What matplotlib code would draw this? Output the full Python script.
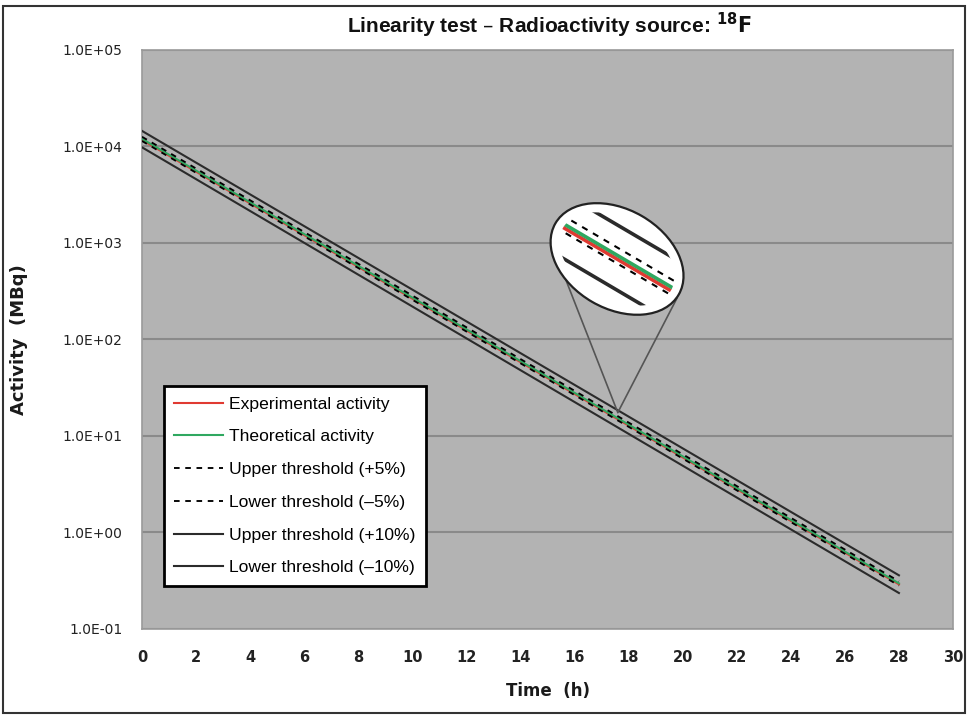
import numpy as np
import matplotlib
matplotlib.use("Agg")
import matplotlib.pyplot as plt
from matplotlib.patches import Ellipse, Rectangle, ConnectionPatch

# ============================
# DATA
# ============================
time_h = [0, 28]
experimental = [1.17e4, 0.290]
theoretical = [1.20e4, 0.297]
upper_5 = [1.26e4, 0.312]
lower_5 = [1.14e4, 0.282]
upper_10 = [1.45e4, 0.360]
lower_10 = [0.98e4, 0.236]

x_ticks = list(range(0, 31, 2))
y_ticks = [1e-1, 1e0, 1e1, 1e2, 1e3, 1e4, 1e5]
y_tick_labels = ["1.0E-01", "1.0E+00", "1.0E+01", "1.0E+02", "1.0E+03", "1.0E+04", "1.0E+05"]

# zoom point of the magnifier
zoom_x = 17.6
zoom_y = 17.5

# ============================
# STYLE
# ============================
red = "#e03a32"
green = "#2fa860"
dark = "#2b2b2b"
dash = (0, (3, 3))


def draw_series(ax, lw=1.5, dlw=1.35):
    ax.plot(time_h, upper_10, color=dark, lw=lw, ls="-", label="Upper threshold (+10%)", zorder=3)
    ax.plot(time_h, lower_10, color=dark, lw=lw, ls="-", label="Lower threshold (\u201310%)", zorder=3)
    ax.plot(time_h, experimental, color=red, lw=lw, label="Experimental activity", zorder=3)
    ax.plot(time_h, theoretical, color=green, lw=lw, label="Theoretical activity", zorder=3)
    ax.plot(time_h, upper_5, color="black", lw=dlw, ls=dash, label="Upper threshold (+5%)", zorder=4)
    ax.plot(time_h, lower_5, color="black", lw=dlw, ls=dash, label="Lower threshold (\u20135%)", zorder=4)


fig = plt.figure(figsize=(9.68, 7.15), dpi=100)
ax = fig.add_axes([0.1467, 0.1203, 0.8378, 0.8098])
ax.set_facecolor("#b3b3b3")

draw_series(ax)

ax.set_yscale("log")
ax.set_xlim(0, 30)
ax.set_ylim(1e-1, 1e5)
ax.set_xticks(x_ticks)
ax.set_yticks(y_ticks)
ax.set_yticklabels(y_tick_labels)
ax.yaxis.set_minor_locator(matplotlib.ticker.NullLocator())
ax.tick_params(axis="both", length=0)
ax.tick_params(axis="y", pad=14, labelsize=10, labelcolor="#222")
ax.tick_params(axis="x", pad=15, labelsize=10.5, labelcolor="#222")
for lab in ax.get_xticklabels():
    lab.set_fontweight("bold")
ax.grid(axis="y", which="major", color="#8a8a8a", lw=1.5)
ax.set_axisbelow(True)
for s in ax.spines.values():
    s.set_color("#9a9a9a")
    s.set_linewidth(1.2)

ax.set_xlabel("Time  (h)", fontsize=12, fontweight="bold", color="#1a1a1a")
ax.set_ylabel("Activity  (MBq)", fontsize=13, fontweight="bold", color="#1a1a1a")
ax.xaxis.set_label_coords(0.5, -0.092)
ax.yaxis.set_label_coords(-0.1406, 0.5)

# legend in the reference order
handles, labels = ax.get_legend_handles_labels()
order = ["Experimental activity", "Theoretical activity", "Upper threshold (+5%)",
         "Lower threshold (\u20135%)", "Upper threshold (+10%)", "Lower threshold (\u201310%)"]
hmap = dict(zip(labels, handles))
leg = ax.legend([hmap[k] for k in order], order, loc="upper left",
                bbox_to_anchor=(0.0271, 0.4197), borderaxespad=0,
                prop={"family": "Liberation Sans", "size": 12.6},
                handlelength=2.75, handletextpad=0.35, labelspacing=1.0,
                borderpad=0.6, fancybox=False, framealpha=1)
leg.get_frame().set_edgecolor("black")
leg.get_frame().set_linewidth(2)
leg.set_zorder(10)

# ============================
# MAGNIFIER
# ============================
ax_in = fig.add_axes([0.5553, 0.5259, 0.1653, 0.2238])
ax_in.set_zorder(2)
ax_in.patch.set_alpha(0)
ax_in.set_yscale("log")
ax_in.set_xlim(16.82, 18.38)
ax_in.set_ylim(9.03, 24.7)
ax_in.axis("off")

ell = Ellipse((0.497, 0.5), 0.89, 0.62, angle=-30, transform=ax_in.transAxes,
              facecolor="white", edgecolor="#222", lw=1.6, zorder=1)
ax_in.add_patch(ell)
draw_series(ax_in, lw=2.6, dlw=1.5)
clip = Ellipse((0.497, 0.5), 0.78, 0.50, angle=-30, transform=ax_in.transAxes)
for ln in ax_in.lines:
    ln.set_clip_path(clip)

for pt in [(0.153, 0.431), (0.872, 0.256)]:
    con = ConnectionPatch(xyA=pt, coordsA=ax_in.transAxes,
                          xyB=(zoom_x, zoom_y), coordsB=ax.transData,
                          color="#555", lw=1.2, zorder=0.5)
    fig.add_artist(con)

# title and outer frame
fig.text(0.567, 0.965, "Linearity test \u2013 Radioactivity source: $\\mathbf{^{18}F}$",
         ha="center", va="center", fontsize=15, fontweight="bold",
         family="Liberation Sans", color="#111")
fig.add_artist(Rectangle((0.003, 0.003), 0.994, 0.989, transform=fig.transFigure,
                         fill=False, edgecolor="#333", lw=1.5))

fig.savefig("out.png", dpi=100)
